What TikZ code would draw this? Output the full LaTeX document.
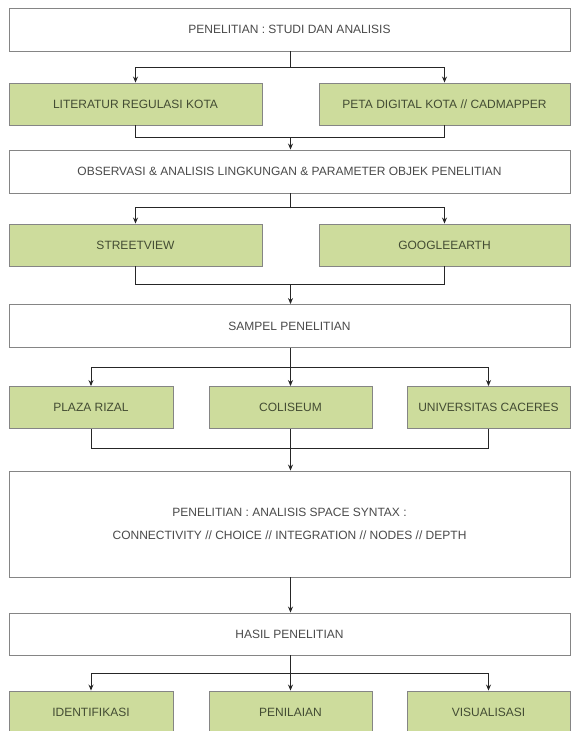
\documentclass[tikz,border=0pt]{standalone}
\usepackage{fontspec}
\setmainfont{Liberation Sans}
\usetikzlibrary{arrows.meta}

\definecolor{boxgreen}{HTML}{CDDC9C}
\definecolor{boxline}{HTML}{858585}
\definecolor{txtgrey}{HTML}{4A4A4A}
\definecolor{txtgreen}{HTML}{434C33}

\tikzset{
  wbox/.style={draw=boxline, line width=0.9pt, fill=white, inner sep=0pt,
               text=txtgrey, font=\fontsize{12}{14}\selectfont,
               minimum width=561pt, minimum height=43pt},
  gbox/.style={draw=boxline, line width=0.9pt, fill=boxgreen, inner sep=0pt,
               text=txtgreen, font=\fontsize{12}{14}\selectfont,
               minimum height=42pt},
  link/.style={draw=black!85, line width=1pt},
  arr/.style={link, -{Stealth[length=6pt,width=5pt]}}
}

\begin{document}
\begin{tikzpicture}[x=1pt,y=-1pt]
    \useasboundingbox (0,0) rectangle (571,731);

    % Stage 1
    \node[wbox] (studi) at (289.5,29.5) {PENELITIAN : STUDI DAN ANALISIS};
    \node[gbox, minimum width=253pt] (literatur) at (135.5,104) {LITERATUR REGULASI KOTA};
    \node[gbox, minimum width=251pt] (peta) at (444.5,104) {PETA DIGITAL KOTA // CADMAPPER};

    % Stage 2
    \node[wbox] (observasi) at (289.5,171.5) {OBSERVASI \& ANALISIS LINGKUNGAN \& PARAMETER OBJEK PENELITIAN};
    \node[gbox, minimum width=253pt] (street) at (135.5,245) {STREETVIEW};
    \node[gbox, minimum width=251pt] (earth) at (444.5,245) {GOOGLEEARTH};

    % Stage 3
    \node[wbox] (sampel) at (289.5,326) {SAMPEL PENELITIAN};
    \node[gbox, minimum width=164pt] (plaza) at (91,407.5) {PLAZA RIZAL};
    \node[gbox, minimum width=163pt] (coliseum) at (290.5,407.5) {COLISEUM};
    \node[gbox, minimum width=163pt] (univ) at (488.5,407.5) {UNIVERSITAS CACERES};

    % Stage 4
    \node[wbox, minimum height=106pt, align=center, font=\fontsize{12}{23}\selectfont]
        (syntax) at (289.5,524) {PENELITIAN : ANALISIS SPACE SYNTAX :\\CONNECTIVITY // CHOICE // INTEGRATION // NODES // DEPTH};

    % Stage 5
    \node[wbox, minimum height=42pt] (hasil) at (289.5,634) {HASIL PENELITIAN};
    \node[gbox, minimum width=164pt] (ident) at (91,712) {IDENTIFIKASI};
    \node[gbox, minimum width=163pt] (nilai) at (290.5,712) {PENILAIAN};
    \node[gbox, minimum width=163pt] (visual) at (488.5,712) {VISUALISASI};

    % Forks and joins
    \coordinate (f1) at (290.5,67);
    \coordinate (j1) at (290.5,137);
    \coordinate (f2) at (290.5,207);
    \coordinate (j2) at (290.5,284);
    \coordinate (f3) at (290.5,367);
    \coordinate (j3) at (290.5,448);
    \coordinate (f5) at (290.5,673);

    \draw[link] (studi.south -| f1) -- (f1);
    \draw[arr] (f1) -| (literatur.north);
    \draw[arr] (f1) -| (peta.north);
    \draw[link] (literatur.south) |- (j1);
    \draw[link] (peta.south) |- (j1);
    \draw[arr] (j1) -- (observasi.north -| j1);

    \draw[link] (observasi.south -| f2) -- (f2);
    \draw[arr] (f2) -| (street.north);
    \draw[arr] (f2) -| (earth.north);
    \draw[link] (street.south) |- (j2);
    \draw[link] (earth.south) |- (j2);
    \draw[arr] (j2) -- (sampel.north -| j2);

    \draw[link] (sampel.south -| f3) -- (f3);
    \draw[arr] (f3) -| (plaza.north);
    \draw[arr] (f3) -- (coliseum.north);
    \draw[arr] (f3) -| (univ.north);
    \draw[link] (plaza.south) |- (j3);
    \draw[link] (univ.south) |- (j3);
    \draw[link] (coliseum.south) -- (j3);
    \draw[arr] (j3) -- (syntax.north -| j3);

    \draw[arr] (syntax.south -| f5) -- (hasil.north -| f5);

    \draw[link] (hasil.south -| f5) -- (f5);
    \draw[arr] (f5) -| (ident.north);
    \draw[arr] (f5) -- (nilai.north);
    \draw[arr] (f5) -| (visual.north);
\end{tikzpicture}
\end{document}
